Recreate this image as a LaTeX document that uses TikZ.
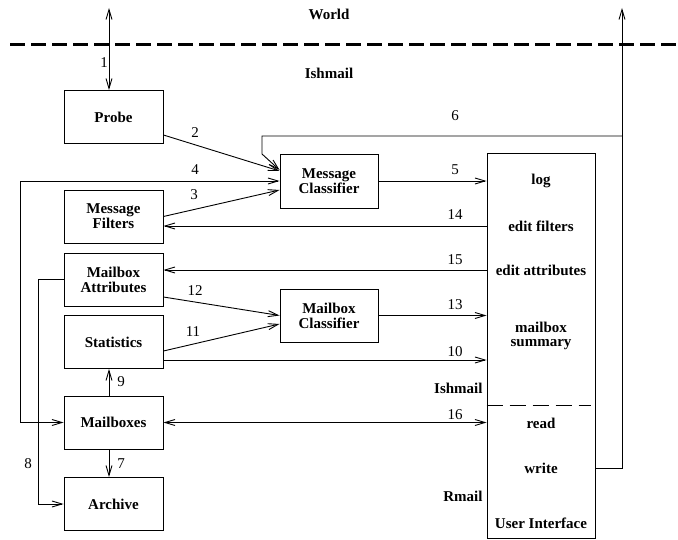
\documentclass[tikz,border=0pt]{standalone}
\usepackage{fontspec}
\setmainfont{Liberation Serif}
\usepackage{tikz}
\usetikzlibrary{arrows.meta, positioning, calc}

\begin{document}
\begin{tikzpicture}[
    x=1pt, y=-1pt,
    >={Straight Barb[length=10pt,width=6pt]},
    line width=0.9pt,
    box/.style={draw, minimum width=99pt, minimum height=53pt, inner sep=0pt, align=center, font=\fontsize{15}{15}\selectfont\bfseries},
    num/.style={font=\fontsize{15}{15}\selectfont, inner sep=0pt},
    region/.style={font=\fontsize{15}{15}\selectfont\bfseries, inner sep=0pt},
    item/.style={font=\fontsize{15}{15}\selectfont\bfseries, inner sep=0pt, align=center},
]
    \useasboundingbox (0,0) rectangle (678,540);
    % world / ishmail border
    \coordinate (bl) at (10,45);
    \coordinate (br) at (678,45);
    \draw[line width=3pt, dash pattern=on 15pt off 6pt] (bl) -- (br);
    \node[region] (world) at (329,14) {World};
    \node[region] (ishtop) at (329,73) {Ishmail};

    % left column
    \node[box] (probe) at (113.5,117) {Probe};
    \node[box] (filters) at (113.5,216.5) {Message\\Filters};
    \node[box] (attrs) at (113.5,279.5) {Mailbox\\Attributes};
    \node[box] (stats) at (113.5,342) {Statistics};
    \node[box] (mboxes) at (113.5,422.5) {Mailboxes};
    \node[box] (archive) at (113.5,504) {Archive};

    % classifiers
    \node[box, minimum width=98pt, minimum height=54pt] (msgclass) at (329,181) {Message\\Classifier};
    \node[box, minimum width=98pt] (boxclass) at (329,315.5) {Mailbox\\Classifier};

    % user interface
    \node[draw, minimum width=108pt, minimum height=385pt, inner sep=0pt] (ui) at (541,345.5) {};
    \node[item] (log) at (541,181) {log};
    \node[item] (editf) at (541,226) {edit filters};
    \node[item] (edita) at (541,270) {edit attributes};
    \node[item] (summary) at (541,336) {mailbox\\[-0.5pt]summary};
    \node[item] (read) at (541,423) {read};
    \node[item] (write) at (541,468) {write};
    \node[item] (uiname) at (541,523) {User Interface};
    \draw[line width=0.8pt, dash pattern=on 16pt off 7pt] (ui.west |- 0,405) -- ($(ui.east |- 0,405)+(-4,0)$);
    \node[region, anchor=east] (ishlow) at (483,388) {Ishmail};
    \node[region, anchor=east] (rmail) at (483,496) {Rmail};

    % connectors
    \coordinate (worldin) at (109,8);
    \coordinate (up6) at (622,8);
    \coordinate (turn6) at (262,154);
    \coordinate (left4) at (20,0);
    \coordinate (left8) at (38,0);

    \draw[<->] (worldin) -- (worldin |- probe.north);
    \draw[->] ($(probe.east)+(0,18)$) -- ($(msgclass.west)+(0,-10)$);
    \draw[->] (filters.east) -- ($(msgclass.west)+(0,9)$);
    \draw[<->] (msgclass.west) -| (left4 |- mboxes.west) -- (mboxes.west);
    \draw[->] (msgclass.east) -- (ui.west |- msgclass.east);
    \draw[->] (ui.east |- write) -| (up6);
    \draw[->] (up6 |- 0,136) -- (turn6 |- 0,136) -- (turn6) -- ($(msgclass.west)+(0,-11)$);
    \draw[->] (mboxes.south -| 109,0) -- (archive.north -| 109,0);
    \draw[->] (attrs.west) -| (left8 |- archive.west) -- (archive.west);
    \draw[->] (mboxes.north -| 109,0) -- (stats.south -| 109,0);
    \draw[->] ($(stats.east)+(0,18)$) -- (ui.west |- 0,360);
    \draw[->] ($(stats.east)+(0,9)$) -- ($(boxclass.west)+(0,8.5)$);
    \draw[->] ($(attrs.east)+(0,17.5)$) -- (boxclass.west);
    \draw[->] (boxclass.east) -- (ui.west |- boxclass.east);
    \draw[->] (ui.west |- 0,226) -- ($(filters.east)+(0,9.5)$);
    \draw[->] (ui.west |- 0,270) -- ($(attrs.east)+(0,-9.5)$);
    \draw[<->] (mboxes.east) -- (ui.west |- mboxes.east);

    % flow numbers
    \node[num] (n1) at (104,63) {1};
    \node[num] (n2) at (195,133) {2};
    \node[num] (n3) at (194,195) {3};
    \node[num] (n4) at (195,170) {4};
    \node[num] (n5) at (455,170) {5};
    \node[num] (n6) at (455,116) {6};
    \node[num] (n7) at (121,464) {7};
    \node[num] (n8) at (28,464) {8};
    \node[num] (n9) at (121,382) {9};
    \node[num] (n10) at (455,352) {10};
    \node[num] (n11) at (193,332) {11};
    \node[num] (n12) at (195,291) {12};
    \node[num] (n13) at (455,305) {13};
    \node[num] (n14) at (455,215) {14};
    \node[num] (n15) at (455,260) {15};
    \node[num] (n16) at (455,415) {16};
\end{tikzpicture}
\end{document}
